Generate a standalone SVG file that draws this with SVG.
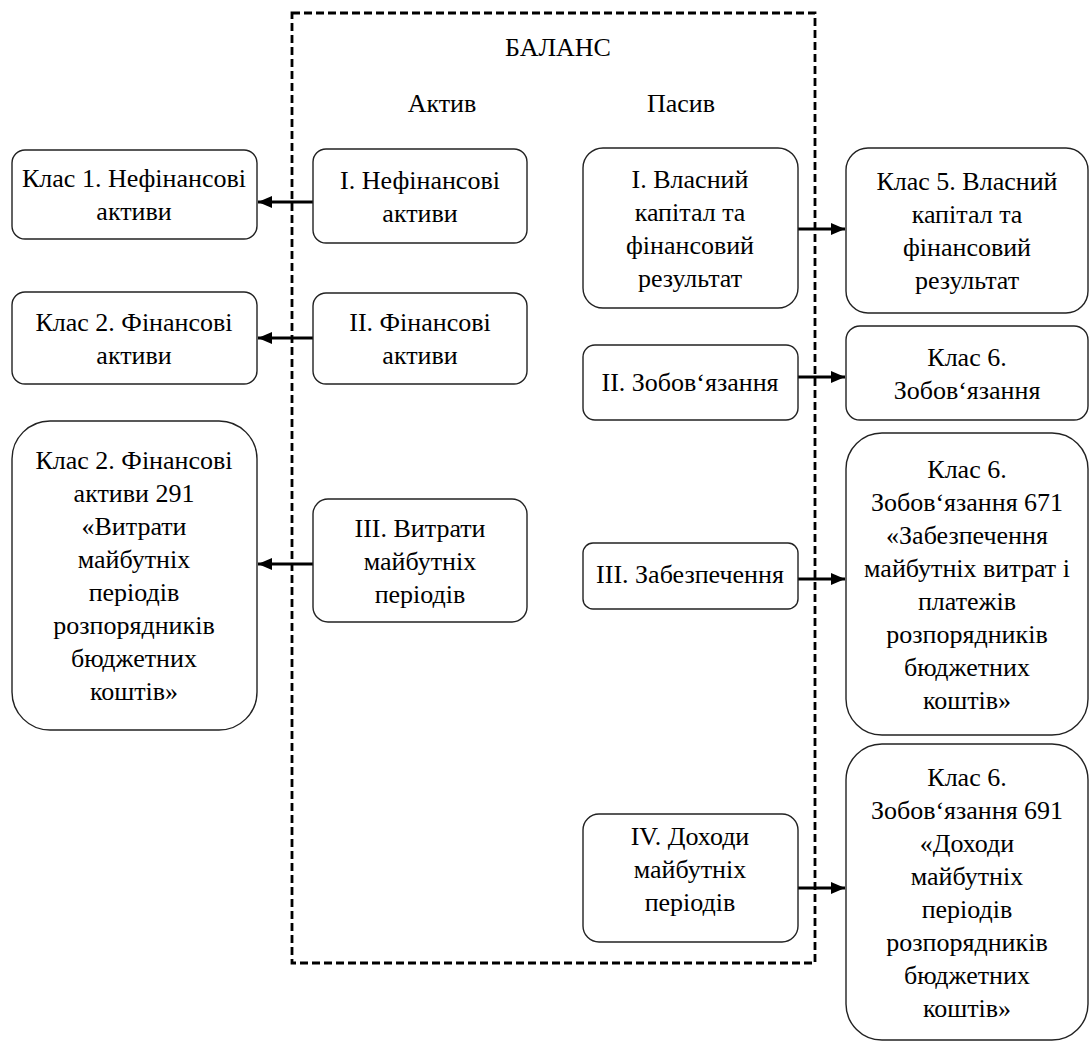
<svg xmlns="http://www.w3.org/2000/svg" width="1090" height="1045" viewBox="0 0 1090 1045">
<style>
.box{fill:#fff;stroke:#222;stroke-width:1.4}
.t{font-family:"Liberation Serif","Times New Roman",serif;font-size:26px;fill:#000;text-anchor:middle}
.ar{stroke:#000;stroke-width:3.2;fill:none}
</style>
<defs>
<marker id="ah" viewBox="0 0 14 12" refX="14" refY="6" markerWidth="14" markerHeight="12" markerUnits="userSpaceOnUse" orient="auto">
<path d="M0,0 L14,6 L0,12 Z" fill="#000"/>
</marker>
</defs>
<rect width="1090" height="1045" fill="#fff"/>
<g id="balance">
<rect x="292" y="13" width="523" height="950" fill="none" stroke="#000" stroke-width="2.8" stroke-dasharray="8,4"/>
<text class="t" x="558" y="56">БАЛАНС</text>
<text class="t" x="442" y="112">Актив</text>
<text class="t" x="681" y="112">Пасив</text>
</g>
<g id="connectors">
<line class="ar" x1="313" y1="202" x2="258" y2="202" marker-end="url(#ah)"/>
<line class="ar" x1="313" y1="338" x2="258" y2="338" marker-end="url(#ah)"/>
<line class="ar" x1="313" y1="564" x2="258" y2="564" marker-end="url(#ah)"/>
<line class="ar" x1="798" y1="229" x2="845" y2="229" marker-end="url(#ah)"/>
<line class="ar" x1="798" y1="377" x2="845" y2="377" marker-end="url(#ah)"/>
<line class="ar" x1="798" y1="579" x2="845" y2="579" marker-end="url(#ah)"/>
<line class="ar" x1="798" y1="888" x2="845" y2="888" marker-end="url(#ah)"/>
</g>
<g id="L1"><rect class="box" x="12" y="150" width="245" height="89" rx="13"/>
<text class="t" x="134" y="187">Клас 1. Нефінансові</text><text class="t" x="134" y="220">активи</text></g>
<g id="L2"><rect class="box" x="12" y="292" width="245" height="92" rx="13"/>
<text class="t" x="134" y="331">Клас 2. Фінансові</text><text class="t" x="134" y="364">активи</text></g>
<g id="L3"><rect class="box" x="12" y="421" width="245" height="309" rx="38"/>
<text class="t" x="134" y="469">Клас 2. Фінансові</text>
<text class="t" x="134" y="502">активи 291</text>
<text class="t" x="134" y="535">«Витрати</text>
<text class="t" x="134" y="568">майбутніх</text>
<text class="t" x="134" y="601">періодів</text>
<text class="t" x="134" y="634">розпорядників</text>
<text class="t" x="134" y="667">бюджетних</text>
<text class="t" x="134" y="700">коштів»</text></g>
<g id="A1"><rect class="box" x="313" y="149" width="214" height="94" rx="13"/>
<text class="t" x="420" y="189">I. Нефінансові</text><text class="t" x="420" y="222">активи</text></g>
<g id="A2"><rect class="box" x="313" y="293" width="214" height="91" rx="13"/>
<text class="t" x="420" y="331">II. Фінансові</text><text class="t" x="420" y="364">активи</text></g>
<g id="A3"><rect class="box" x="313" y="499" width="214" height="123" rx="15"/>
<text class="t" x="420" y="537">III. Витрати</text><text class="t" x="420" y="570">майбутніх</text><text class="t" x="420" y="603">періодів</text></g>
<g id="P1"><rect class="box" x="583" y="148" width="215" height="160" rx="20"/>
<text class="t" x="690" y="188">I. Власний</text><text class="t" x="690" y="221">капітал та</text><text class="t" x="690" y="254">фінансовий</text><text class="t" x="690" y="287">результат</text></g>
<g id="P2"><rect class="box" x="583" y="345" width="215" height="75" rx="12"/>
<text class="t" x="690" y="391">II. Зобов‘язання</text></g>
<g id="P3"><rect class="box" x="583" y="543" width="215" height="66" rx="10"/>
<text class="t" x="690" y="583">III. Забезпечення</text></g>
<g id="P4"><rect class="box" x="583" y="814" width="215" height="128" rx="16"/>
<text class="t" x="690" y="845">IV. Доходи</text><text class="t" x="690" y="878">майбутніх</text><text class="t" x="690" y="911">періодів</text></g>
<g id="R1"><rect class="box" x="846" y="148" width="242" height="165" rx="22"/>
<text class="t" x="967" y="190">Клас 5. Власний</text><text class="t" x="967" y="223">капітал та</text><text class="t" x="967" y="256">фінансовий</text><text class="t" x="967" y="289">результат</text></g>
<g id="R2"><rect class="box" x="846" y="326" width="242" height="94" rx="14"/>
<text class="t" x="967" y="366">Клас 6.</text><text class="t" x="967" y="399">Зобов‘язання</text></g>
<g id="R3"><rect class="box" x="846" y="433" width="242" height="302" rx="36"/>
<text class="t" x="967" y="478">Клас 6.</text>
<text class="t" x="967" y="511">Зобов‘язання 671</text>
<text class="t" x="967" y="544">«Забезпечення</text>
<text class="t" x="967" y="577">майбутніх витрат і</text>
<text class="t" x="967" y="610">платежів</text>
<text class="t" x="967" y="643">розпорядників</text>
<text class="t" x="967" y="676">бюджетних</text>
<text class="t" x="967" y="709">коштів»</text></g>
<g id="R4"><rect class="box" x="846" y="744" width="242" height="296" rx="36"/>
<text class="t" x="967" y="786">Клас 6.</text>
<text class="t" x="967" y="819">Зобов‘язання 691</text>
<text class="t" x="967" y="852">«Доходи</text>
<text class="t" x="967" y="885">майбутніх</text>
<text class="t" x="967" y="918">періодів</text>
<text class="t" x="967" y="951">розпорядників</text>
<text class="t" x="967" y="984">бюджетних</text>
<text class="t" x="967" y="1017">коштів»</text></g>
</svg>
